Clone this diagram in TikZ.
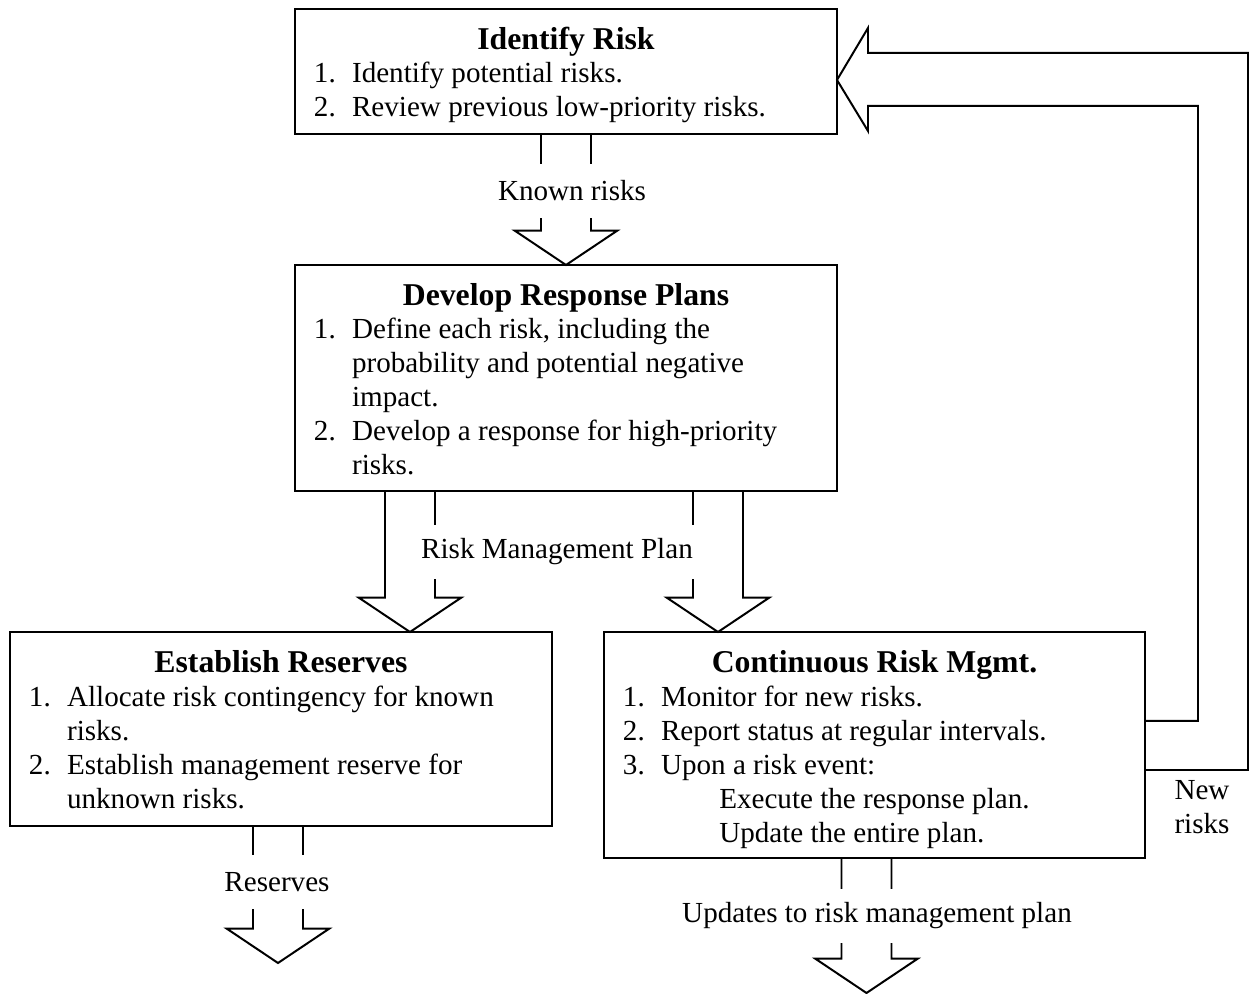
\documentclass[tikz,border=0pt]{standalone}
\usepackage{fontspec}
\setmainfont{Liberation Serif}
\usetikzlibrary{calc,positioning}

\newcommand{\px}{0.378pt}
\newcommand{\rsteps}[1]{\begin{tabular}[t]{@{}p{14.4pt}@{}l@{}}#1\end{tabular}}

\begin{document}
\begin{tikzpicture}[x=\px,y=-\px,line width=0.75pt,
	rbox/.style={draw,rectangle,anchor=north west,inner sep=0pt,outer sep=0pt,
		minimum width=542*\px},
	rtitle/.style={anchor=base,inner sep=0pt,font=\fontsize{12}{14}\selectfont\bfseries},
	rlist/.style={anchor=base west,inner sep=0pt,font=\fontsize{11}{12.85}\selectfont},
	rlabel/.style={fill=white,inner xsep=3pt,inner ysep=0pt,minimum height=20.4pt,
		font=\fontsize{11}{12.85}\selectfont},
	hollow/.style={to path={let \p1=(\tikztostart),\p2=(\tikztotarget) in
		(\x1-9.45pt,\y1) -- (\x1-9.45pt,\y2+13pt) -- (\x1-19.4pt,\y2+13pt) -- (\x1,\y2)
		-- (\x1+19.4pt,\y2+13pt) -- (\x1+9.45pt,\y2+13pt) -- (\x1+9.45pt,\y1)}}]
	\useasboundingbox (0,0) rectangle (1249,994);

	% boxes
	\node[rbox,minimum height=125*\px] (idbox) at (295,9) {};
	\node[rbox,minimum height=226*\px] (rpbox) at (295,265) {};
	\node[rbox,minimum height=194*\px] (esbox) at (10,632) {};
	\node[rbox,minimum width=541*\px,minimum height=226*\px] (cmbox) at (604,632) {};

	\node[rtitle] (idtitle) at ($(idbox.north)+(0,41)$) {Identify Risk};
	\node[rtitle] (rptitle) at ($(rpbox.north)+(0,41)$) {Develop Response Plans};
	\node[rtitle] (estitle) at ($(esbox.north)+(0,41)$) {Establish Reserves};
	\node[rtitle] (cmtitle) at ($(cmbox.north)+(0,41)$) {Continuous Risk Mgmt.};

	\node[rlist] (idlist) at ($(idbox.north west)+(18,74)$) {\rsteps{%
		1.&Identify potential risks.\\
		2.&Review previous low-priority risks.}};
	\node[rlist] (rplist) at ($(rpbox.north west)+(18,74)$) {\rsteps{%
		1.&Define each risk, including the\\
		&probability and potential negative\\
		&impact.\\
		2.&Develop a response for high-priority\\
		&risks.}};
	\node[rlist] (eslist) at ($(esbox.north west)+(18,75)$) {\rsteps{%
		1.&Allocate risk contingency for known\\
		&risks.\\
		2.&Establish management reserve for\\
		&unknown risks.}};
	\node[rlist] (cmlist) at ($(cmbox.north west)+(18,75)$) {\rsteps{%
		1.&Monitor for new risks.\\
		2.&Report status at regular intervals.\\
		3.&Upon a risk event:\\
		&\hspace*{22pt}Execute the response plan.\\
		&\hspace*{22pt}Update the entire plan.}};

	% hollow arrows
	\coordinate (resend) at (278,963);
	\coordinate (updend) at (866,993);
	\draw[hollow] (idbox.south) to (rpbox.north);
	\draw[hollow] ($(rpbox.south)+(-156,0)$) to ($(esbox.north)+(129,0)$);
	\draw[hollow] ($(rpbox.south)+(152,0)$) to ($(cmbox.north)+(-156.5,0)$);
	\draw[hollow] ($(esbox.south)+(-3,0)$) to (resend);
	\draw[hollow] ($(cmbox.south)+(-8,0)$) to (updend);

	% feedback of new risks
	\draw ($(cmbox.east)+(0,25)$) -- ++(103,0) |- ($(idbox.east)+(31,-18.5)$)
		-- ++(0,-25) -- ($(idbox.east)+(0,8.5)$) -- ++(31,51) -- ++(0,-25)
		-| ($(cmbox.east)+(53,-24)$) -- ($(cmbox.east)+(0,-24)$);

	\node[rlabel] (known) at (572,191) {Known risks};
	\node[rlabel] (rmp) at (557,552) {Risk Management Plan};
	\node[rlabel] (reserves) at (277,882) {Reserves};
	\node[rlabel] (updates) at (877,916) {Updates to risk management plan};
	\node[align=center,inner sep=0pt,font=\fontsize{11}{12.85}\selectfont] (newrisks)
		at (1202,807) {New\\risks};
\end{tikzpicture}
\end{document}
